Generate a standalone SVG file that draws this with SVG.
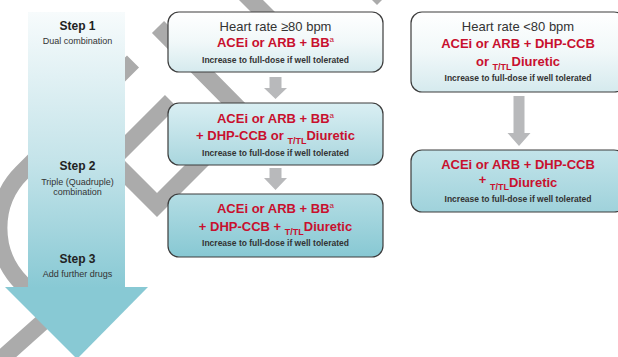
<svg xmlns="http://www.w3.org/2000/svg" width="618" height="357" viewBox="0 0 618 357">
<defs>
<style>
text{font-family:"Liberation Sans",Arial,sans-serif}
.wm{fill:none;stroke:#ababab;stroke-width:17;stroke-linejoin:miter;stroke-linecap:butt}
.box{stroke:#3d3d3d;stroke-width:1.2}
.hr{font-size:13px;fill:#333;text-anchor:middle}
.red{font-size:13px;font-weight:bold;fill:#c8102e;text-anchor:middle}
.inc{font-size:8.5px;font-weight:bold;fill:#333;text-anchor:middle}
.sup{font-size:8px;font-weight:normal}
.sub{font-size:9px}
.st{font-size:12px;font-weight:bold;fill:#222;text-anchor:middle}
.sd{font-size:9px;fill:#333;text-anchor:middle}
.conn{fill:#b8b9bb}
</style>
<linearGradient id="gStep" x1="0" y1="0" x2="0" y2="1">
<stop offset="0" stop-color="#f7fbfc"/>
<stop offset="0.55" stop-color="#c3e3e9"/>
<stop offset="1" stop-color="#88c9d4"/>
</linearGradient>
<linearGradient id="gA" x1="0" y1="0" x2="0" y2="1">
<stop offset="0" stop-color="#ffffff"/>
<stop offset="0.5" stop-color="#f1f8f9"/>
<stop offset="1" stop-color="#d5eaee"/>
</linearGradient>
<linearGradient id="gB" x1="0" y1="0" x2="0" y2="1">
<stop offset="0" stop-color="#daeff3"/>
<stop offset="1" stop-color="#a9d6de"/>
</linearGradient>
<linearGradient id="gC" x1="0" y1="0" x2="0" y2="1">
<stop offset="0" stop-color="#b4dde4"/>
<stop offset="1" stop-color="#87c8d3"/>
</linearGradient>
<linearGradient id="gD" x1="0" y1="0" x2="0" y2="1">
<stop offset="0" stop-color="#c3e4ea"/>
<stop offset="1" stop-color="#9fd2db"/>
</linearGradient>
</defs>

<g id="watermark">
<path class="wm" d="M171,101 L112,160 L157,205 L246,116 L158,27"/>
<path class="wm" d="M133,61.6 L21.8,172.8 A78,78 0 0 0 21.8,283.2 L60,321"/>
<path class="wm" d="M-10,369 L45,320"/>
<path class="wm" d="M241,-10 L290,39"/>
<path class="wm" d="M384,-14 L371,-1"/>
</g>

<g id="steps">
<rect x="28" y="12" width="97" height="276" fill="url(#gStep)"/>
<polygon points="5,287 148,287 77,359" fill="#88c9d4"/>
<text class="st" x="77.5" y="30">Step 1</text>
<text class="sd" x="77.5" y="44">Dual combination</text>
<text class="st" x="77.5" y="170">Step 2</text>
<text class="sd" x="77.5" y="185">Triple (Quadruple)</text>
<text class="sd" x="77.5" y="195">combination</text>
<text class="st" x="77.5" y="263">Step 3</text>
<text class="sd" x="77.5" y="277">Add further drugs</text>
</g>

<g id="connectors">
<polygon class="conn" points="269.5,77 281.5,77 281.5,88 287,88 275.5,99 264,88 269.5,88"/>
<polygon class="conn" points="269.5,168 281.5,168 281.5,178 287,178 275.5,190 264,178 269.5,178"/>
<polygon class="conn" points="513.5,96 524.5,96 524.5,133 530.5,133 519,146 507.5,133 513.5,133"/>
</g>

<g id="box-hr-high">
<rect class="box" x="168" y="12" width="215" height="60" rx="11" fill="url(#gA)"/>
<text class="hr" x="275.5" y="31">Heart rate ≥80 bpm</text>
<text class="red" x="275.5" y="47">ACEi or ARB + BB<tspan class="sup" dy="-5">a</tspan></text>
<text class="inc" x="275.5" y="63">Increase to full-dose if well tolerated</text>
</g>

<g id="box-triple-or">
<rect class="box" x="168" y="103" width="215" height="62" rx="11" fill="url(#gB)"/>
<text class="red" x="275.5" y="123">ACEi or ARB + BB<tspan class="sup" dy="-5">a</tspan></text>
<text class="red" x="275.5" y="140">+ DHP-CCB or  <tspan class="sub" dy="4">T/TL</tspan><tspan dy="-4">Diuretic</tspan></text>
<text class="inc" x="275.5" y="156">Increase to full-dose if well tolerated</text>
</g>

<g id="box-quad">
<rect class="box" x="168" y="194" width="215" height="63" rx="11" fill="url(#gC)"/>
<text class="red" x="275.5" y="213">ACEi or ARB + BB<tspan class="sup" dy="-5">a</tspan></text>
<text class="red" x="275.5" y="231">+ DHP-CCB +  <tspan class="sub" dy="4">T/TL</tspan><tspan dy="-4">Diuretic</tspan></text>
<text class="inc" x="275.5" y="246">Increase to full-dose if well tolerated</text>
</g>

<g id="box-hr-low">
<rect class="box" x="411" y="12" width="214" height="80" rx="11" fill="url(#gA)"/>
<text class="hr" x="518" y="31">Heart rate &lt;80 bpm</text>
<text class="red" x="518" y="48">ACEi or ARB + DHP-CCB</text>
<text class="red" x="518" y="66">or <tspan class="sub" dy="3.5">T/TL</tspan><tspan dy="-3.5">Diuretic</tspan></text>
<text class="inc" x="518" y="81">Increase to full-dose if well tolerated</text>
</g>

<g id="box-triple-low">
<rect class="box" x="411" y="150" width="214" height="62" rx="11" fill="url(#gD)"/>
<text class="red" x="518" y="169">ACEi or ARB + DHP-CCB</text>
<text class="red" x="518" y="186.5"><tspan dy="-3">+</tspan> <tspan class="sub" dy="6.5">T/TL</tspan><tspan dy="-3.5">Diuretic</tspan></text>
<text class="inc" x="518" y="201.5">Increase to full-dose if well tolerated</text>
</g>
</svg>
